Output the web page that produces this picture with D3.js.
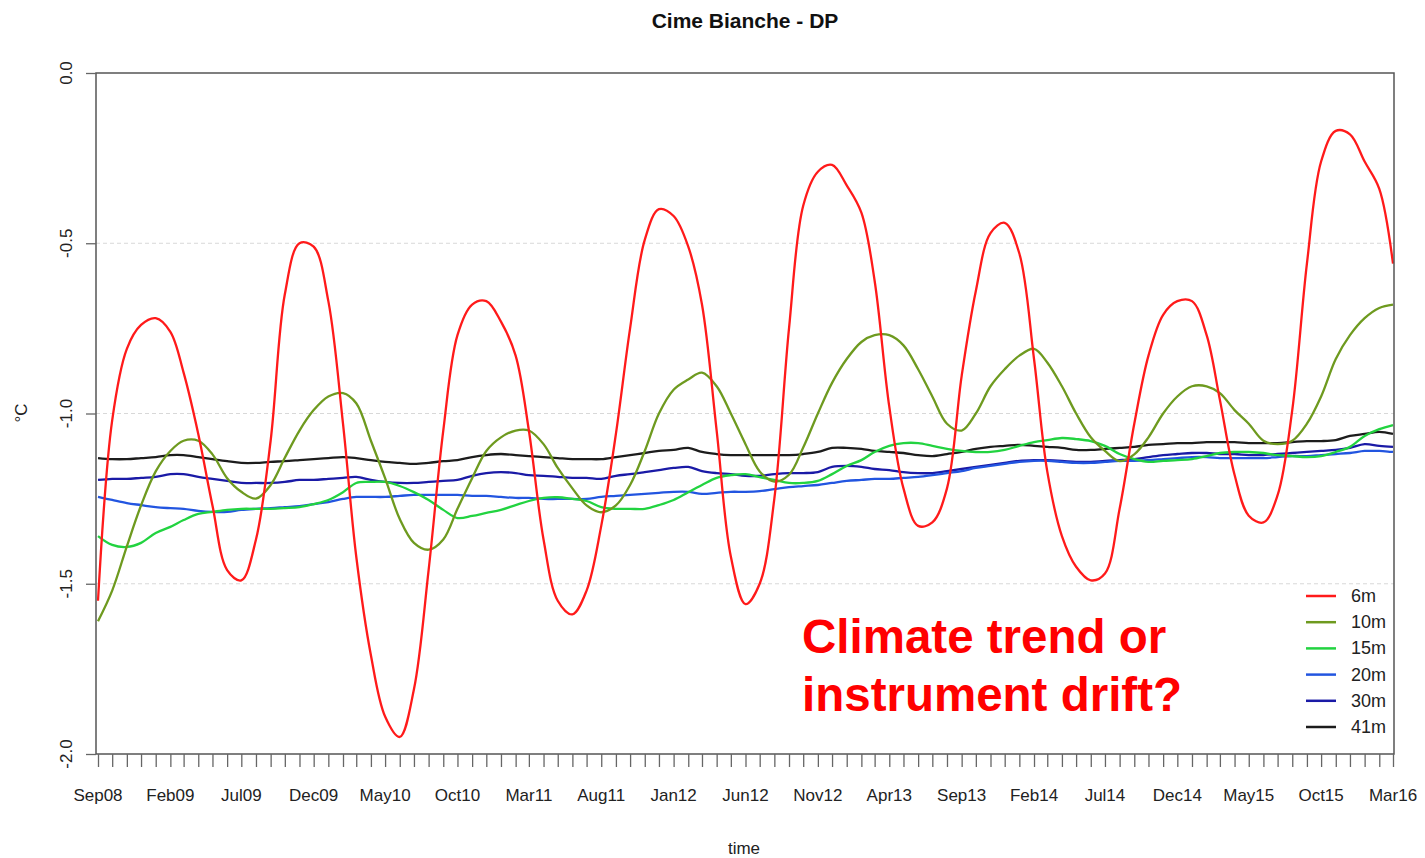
<!DOCTYPE html>
<html>
<head>
<meta charset="utf-8">
<script src="https://cdn.jsdelivr.net/npm/d3@7"></script>
<style>
  body { margin: 0; background: #fff; }
  text { font-family: 'Liberation Sans', Arial, sans-serif; }
</style>
</head>
<body>
<div id="chart"></div>
<script>
// monthly readings, Sep08 .. Mar16 (91 months)
const firstMonth = new Date(2008, 8, 1);
const lastMonth = new Date(2016, 2, 1);
const months = d3.timeMonth.range(firstMonth, d3.timeMonth.offset(lastMonth, 1));

const tickLabels = ['Sep08', 'Feb09', 'Jul09', 'Dec09', 'May10', 'Oct10', 'Mar11', 'Aug11', 'Jan12',
    'Jun12', 'Nov12', 'Apr13', 'Sep13', 'Feb14', 'Jul14', 'Dec14', 'May15', 'Oct15', 'Mar16'];
const yTicks = [0, -0.5, -1, -1.5, -2];

const depths = ['6m', '10m', '15m', '20m', '30m', '41m'];
const depthColors = ['#ff1a1a', '#6e9a1f', '#22d340', '#2255e0', '#1a1aa6', '#1c1c1c'];

const temp6m = [-1.55, -1.02, -0.81, -0.74, -0.72, -0.76, -0.88, -1.06, -1.27, -1.46,
    -1.49, -1.37, -1.08, -0.65, -0.50, -0.51, -0.67, -1.03, -1.42, -1.71,
    -1.89, -1.95, -1.81, -1.46, -1.05, -0.77, -0.68, -0.67, -0.73, -0.83,
    -1.05, -1.37, -1.55, -1.59, -1.52, -1.33, -1.06, -0.75, -0.49, -0.40,
    -0.42, -0.51, -0.68, -1.05, -1.42, -1.56, -1.50, -1.25, -0.75, -0.39,
    -0.29, -0.27, -0.33, -0.41, -0.61, -0.98, -1.22, -1.33, -1.32, -1.22,
    -0.89, -0.64, -0.47, -0.44, -0.53, -0.84, -1.17, -1.36, -1.45, -1.49,
    -1.47, -1.28, -1.03, -0.83, -0.71, -0.67, -0.67, -0.77, -0.96, -1.18,
    -1.30, -1.32, -1.24, -0.99, -0.56, -0.26, -0.17, -0.18, -0.26, -0.34,
    -0.56];
const temp10m = [-1.61, -1.52, -1.39, -1.27, -1.17, -1.11, -1.08, -1.08, -1.12, -1.19,
    -1.23, -1.25, -1.21, -1.13, -1.05, -0.99, -0.95, -0.94, -0.97, -1.08,
    -1.19, -1.31, -1.38, -1.40, -1.37, -1.28, -1.19, -1.11, -1.07, -1.05,
    -1.05, -1.09, -1.16, -1.22, -1.27, -1.29, -1.27, -1.21, -1.11, -1.00,
    -0.93, -0.90, -0.88, -0.92, -1.00, -1.09, -1.17, -1.20, -1.18, -1.10,
    -1.00, -0.91, -0.84, -0.79, -0.77, -0.77, -0.80, -0.87, -0.95, -1.03,
    -1.05, -1.00, -0.92, -0.87, -0.83, -0.81, -0.85, -0.92, -1.00, -1.07,
    -1.11, -1.14, -1.12, -1.07, -1.00, -0.95, -0.92, -0.92, -0.94, -0.99,
    -1.03, -1.08, -1.09, -1.08, -1.03, -0.95, -0.84, -0.77, -0.72, -0.69,
    -0.68];
const temp15m = [-1.36, -1.386, -1.392, -1.38, -1.351, -1.333, -1.313, -1.295, -1.289, -1.283,
    -1.28, -1.28, -1.28, -1.278, -1.275, -1.266, -1.254, -1.231, -1.204, -1.201,
    -1.201, -1.213, -1.231, -1.254, -1.283, -1.307, -1.301, -1.292, -1.283, -1.269,
    -1.257, -1.248, -1.246, -1.251, -1.257, -1.275, -1.28, -1.28, -1.28, -1.269,
    -1.254, -1.231, -1.21, -1.189, -1.181, -1.178, -1.187, -1.195, -1.204, -1.204,
    -1.198, -1.178, -1.154, -1.137, -1.113, -1.095, -1.087, -1.087, -1.095, -1.104,
    -1.11, -1.113, -1.113, -1.107, -1.095, -1.084, -1.078, -1.072, -1.075, -1.081,
    -1.095, -1.119, -1.134, -1.142, -1.139, -1.137, -1.134, -1.125, -1.116, -1.113,
    -1.113, -1.116, -1.122, -1.125, -1.128, -1.125, -1.113, -1.098, -1.066, -1.046,
    -1.034];
const temp20m = [-1.245, -1.254, -1.263, -1.269, -1.275, -1.278, -1.28, -1.286, -1.289, -1.289,
    -1.283, -1.28, -1.278, -1.275, -1.272, -1.266, -1.26, -1.251, -1.245, -1.245,
    -1.245, -1.242, -1.239, -1.239, -1.239, -1.239, -1.242, -1.242, -1.245, -1.248,
    -1.248, -1.251, -1.251, -1.251, -1.251, -1.245, -1.242, -1.239, -1.236, -1.233,
    -1.23, -1.23, -1.236, -1.233, -1.23, -1.23, -1.228, -1.222, -1.216, -1.213,
    -1.21, -1.204, -1.198, -1.195, -1.192, -1.192, -1.189, -1.186, -1.181, -1.175,
    -1.169, -1.16, -1.154, -1.148, -1.142, -1.139, -1.139, -1.142, -1.145, -1.145,
    -1.142, -1.139, -1.139, -1.137, -1.134, -1.131, -1.128, -1.128, -1.131, -1.131,
    -1.131, -1.131, -1.128, -1.125, -1.125, -1.122, -1.119, -1.116, -1.11, -1.11,
    -1.113];
const temp30m = [-1.195, -1.192, -1.192, -1.189, -1.186, -1.178, -1.178, -1.186, -1.192, -1.198,
    -1.204, -1.204, -1.204, -1.201, -1.195, -1.195, -1.192, -1.189, -1.186, -1.195,
    -1.201, -1.204, -1.204, -1.201, -1.198, -1.195, -1.183, -1.175, -1.172, -1.175,
    -1.181, -1.183, -1.186, -1.189, -1.189, -1.192, -1.183, -1.178, -1.172, -1.166,
    -1.16, -1.157, -1.169, -1.175, -1.178, -1.183, -1.183, -1.178, -1.175, -1.175,
    -1.172, -1.157, -1.154, -1.157, -1.163, -1.166, -1.172, -1.175, -1.175, -1.169,
    -1.163, -1.157, -1.151, -1.145, -1.139, -1.137, -1.137, -1.139, -1.142, -1.142,
    -1.139, -1.137, -1.134, -1.128, -1.122, -1.119, -1.116, -1.116, -1.119, -1.119,
    -1.122, -1.122, -1.119, -1.116, -1.113, -1.11, -1.107, -1.101, -1.09, -1.095,
    -1.098];
const temp41m = [-1.131, -1.134, -1.134, -1.131, -1.128, -1.122, -1.122, -1.128, -1.134, -1.14,
    -1.145, -1.145, -1.142, -1.14, -1.137, -1.134, -1.131, -1.128, -1.131, -1.137,
    -1.142, -1.145, -1.148, -1.145, -1.14, -1.137, -1.128, -1.122, -1.119, -1.122,
    -1.125, -1.128, -1.131, -1.134, -1.134, -1.134, -1.128, -1.122, -1.116, -1.11,
    -1.107, -1.101, -1.113, -1.119, -1.122, -1.122, -1.122, -1.122, -1.122, -1.119,
    -1.113, -1.101, -1.101, -1.104, -1.11, -1.113, -1.116, -1.122, -1.125, -1.119,
    -1.113, -1.104, -1.098, -1.095, -1.092, -1.095, -1.098, -1.101, -1.107, -1.107,
    -1.104, -1.101, -1.098, -1.092, -1.09, -1.087, -1.087, -1.084, -1.084, -1.084,
    -1.087, -1.087, -1.087, -1.084, -1.081, -1.081, -1.078, -1.066, -1.06, -1.054,
    -1.06];
const seriesValues = [temp6m, temp10m, temp15m, temp20m, temp30m, temp41m];

// graphic dimensions
const graphicWidth = 1425;
const graphicHeight = 858;
const box = {left: 96, right: 1394, top: 73, bottom: 754};

const svg = d3.select('#chart')
    .append('svg')
    .attr('width', graphicWidth)
    .attr('height', graphicHeight);

// scales
const x = d3.scaleTime()
    .domain([firstMonth, lastMonth])
    .range([98, 1393]);
const y = d3.scaleLinear()
    .domain([-2, 0])
    .range([box.bottom, box.top]);

// dashed grid lines
svg.append('g')
    .selectAll('line')
    .data(yTicks.filter(d => d !== 0 && d !== -2))
    .join('line')
    .attr('x1', box.left)
    .attr('x2', box.right)
    .attr('y1', d => y(d))
    .attr('y2', d => y(d))
    .attr('stroke', '#d8d8d8')
    .attr('stroke-width', 1)
    .attr('stroke-dasharray', '4,3');

// series lines
const line = d3.line()
    .curve(d3.curveCatmullRom.alpha(0.5))
    .x((d, i) => x(months[i]))
    .y(d => y(d));

// draw deepest first so the 6m curve is on top
const order = [5, 4, 3, 2, 1, 0];
svg.append('g')
    .selectAll('path')
    .data(order)
    .join('path')
    .attr('d', k => line(seriesValues[k]))
    .attr('fill', 'none')
    .attr('stroke', k => depthColors[k])
    .attr('stroke-width', 2.3)
    .attr('stroke-linejoin', 'round');

// plot box
svg.append('rect')
    .attr('x', box.left)
    .attr('y', box.top)
    .attr('width', box.right - box.left)
    .attr('height', box.bottom - box.top)
    .attr('fill', 'none')
    .attr('stroke', '#555')
    .attr('stroke-width', 1.5);

// x axis: monthly ticks, label every fifth month
const xAxis = d3.axisBottom(x)
    .tickValues(months)
    .tickSize(13)
    .tickFormat('');
const xAxisG = svg.append('g')
    .attr('transform', 'translate(0,' + box.bottom + ')')
    .call(xAxis);
xAxisG.select('.domain').remove();
xAxisG.selectAll('.tick line').attr('stroke', '#666').attr('stroke-width', 1.3);

svg.append('g')
    .selectAll('text')
    .data(tickLabels)
    .join('text')
    .attr('x', (d, i) => x(months[i * 5]))
    .attr('y', 801)
    .attr('text-anchor', 'middle')
    .attr('font-size', 17)
    .attr('fill', '#222')
    .text(d => d);

// y axis: rotated labels like R
const yAxis = d3.axisLeft(y)
    .tickValues(yTicks)
    .tickSize(10)
    .tickFormat('');
const yAxisG = svg.append('g')
    .attr('transform', 'translate(' + box.left + ',0)')
    .call(yAxis);
yAxisG.select('.domain').remove();
yAxisG.selectAll('.tick line').attr('stroke', '#666').attr('stroke-width', 1.3);

svg.append('g')
    .selectAll('text')
    .data(yTicks)
    .join('text')
    .attr('transform', d => 'translate(72,' + y(d) + ') rotate(-90)')
    .attr('text-anchor', 'middle')
    .attr('font-size', 17)
    .attr('fill', '#222')
    .text(d => d3.format('.1f')(d).replace('−', '-'));

// axis titles and main title
svg.append('text')
    .attr('transform', 'translate(27,413) rotate(-90)')
    .attr('text-anchor', 'middle')
    .attr('font-size', 17)
    .attr('fill', '#222')
    .text('°C');

svg.append('text')
    .attr('x', 744)
    .attr('y', 854)
    .attr('text-anchor', 'middle')
    .attr('font-size', 17)
    .attr('fill', '#222')
    .text('time');

svg.append('text')
    .attr('x', 745)
    .attr('y', 28)
    .attr('text-anchor', 'middle')
    .attr('font-size', 21)
    .attr('font-weight', 'bold')
    .attr('fill', '#111')
    .text('Cime Bianche - DP');

// legend
const legend = svg.append('g')
    .selectAll('g')
    .data(depths)
    .join('g')
    .attr('transform', (d, i) => 'translate(1306,' + (596 + i * 26.2) + ')');
legend.append('line')
    .attr('x1', 0)
    .attr('x2', 30)
    .attr('stroke', (d, i) => depthColors[i])
    .attr('stroke-width', 2.5);
legend.append('text')
    .attr('x', 45)
    .attr('y', 6)
    .attr('font-size', 18)
    .attr('fill', '#222')
    .text(d => d);

// annotation
const note = svg.append('text')
    .attr('x', 802)
    .attr('font-size', 47.5)
    .attr('font-weight', 'bold')
    .attr('fill', '#ff0000');
note.append('tspan').attr('x', 802).attr('y', 653).text('Climate trend or');
note.append('tspan').attr('x', 802).attr('y', 711).text('instrument drift?');
</script>
</body>
</html>
